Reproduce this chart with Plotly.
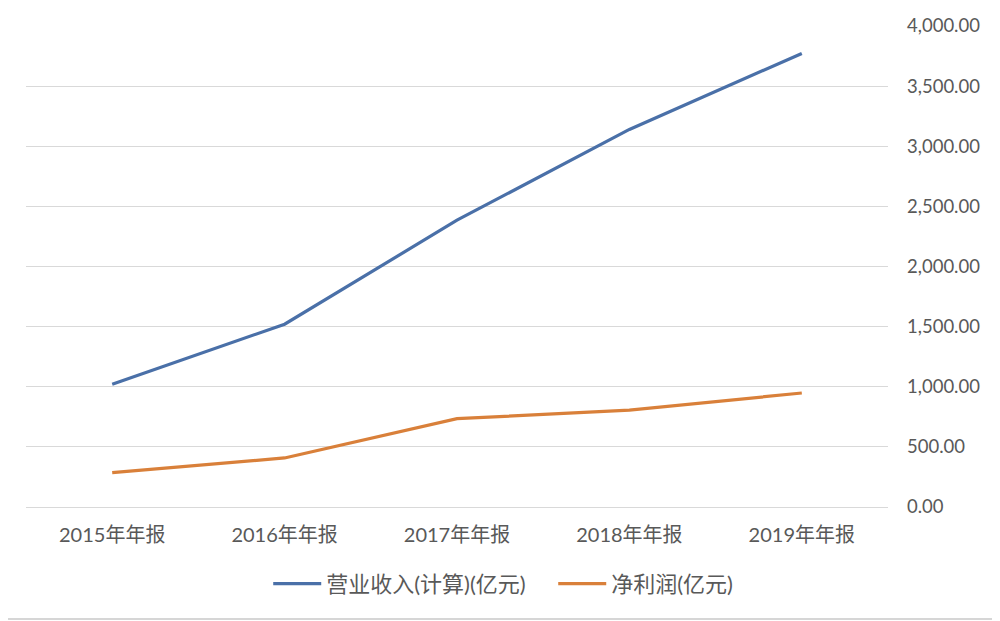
import plotly.graph_objects as go

# Data
years = ["2015年年报", "2016年年报", "2017年年报", "2018年年报", "2019年年报"]
revenue = [1021, 1520, 2385, 3140, 3772]       # 营业收入(计算)(亿元)
net_profit = [286, 408, 735, 805, 948]         # 净利润(亿元)

font_family = "Lato, 'Noto Sans CJK SC', sans-serif"
text_color = "#595959"

fig = go.Figure()
fig.add_trace(go.Scatter(x=years, y=revenue, mode="lines", name="营业收入(计算)(亿元)",
                         line=dict(color="#4A70A8", width=3.2)))
fig.add_trace(go.Scatter(x=years, y=net_profit, mode="lines", name="净利润(亿元)",
                         line=dict(color="#D9803A", width=3.2)))

# page has an 8px offset, so margins are trimmed to put the plot where the reference has it
fig.update_layout(
    width=1000, height=621,
    margin=dict(l=18, r=120, t=18, b=122, autoexpand=False),
    paper_bgcolor="white", plot_bgcolor="white",
    font=dict(family=font_family, size=18, color=text_color),
    showlegend=True,
    legend=dict(orientation="h", x=0.281, xanchor="left", y=-0.116, yanchor="top",
                font=dict(size=22, color=text_color), entrywidth=222, itemwidth=48),
    shapes=[dict(type="line", xref="paper", yref="paper",
                 x0=-0.021, x1=1.139, y0=-0.2328, y1=-0.2328,
                 line=dict(color="#C8C8C8", width=1.5))],
)
fig.update_xaxes(type="category", range=[-0.5, 4.5], automargin=False,
                 showgrid=False, showline=False, ticks="",
                 ticklabelstandoff=14, tickfont=dict(size=20, color=text_color))
fig.update_yaxes(side="right", range=[0, 4000], dtick=500, tickformat=",.2f",
                 automargin=False,
                 showgrid=True, gridcolor="#D9D9D9", gridwidth=1,
                 zeroline=True, zerolinecolor="#D9D9D9", zerolinewidth=1,
                 showline=False, ticks="", ticklabelstandoff=18,
                 tickfont=dict(size=18.5, color=text_color))

fig.write_html("out.html")
